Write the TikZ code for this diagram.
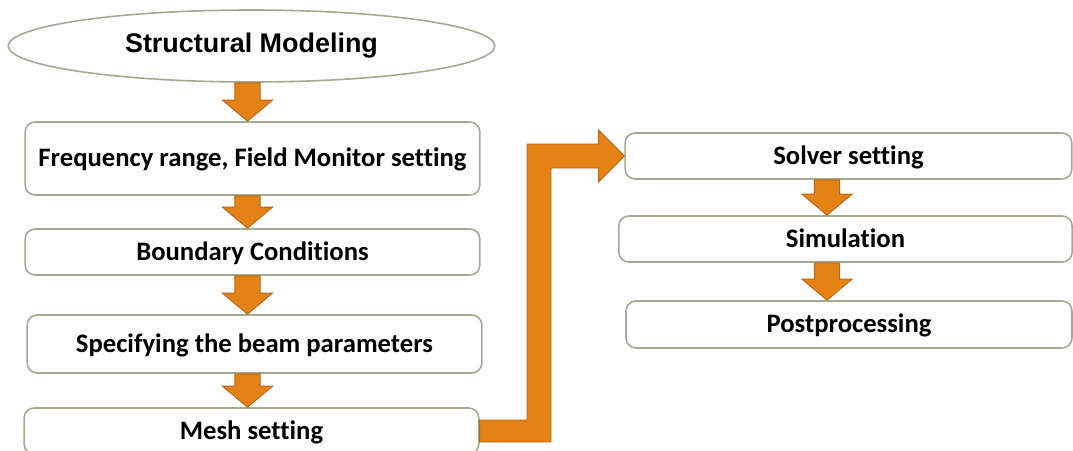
\documentclass[tikz,border=0pt]{standalone}
\usepackage{fontspec}
\setmainfont[Ligatures=NoCommon]{Carlito}
\newfontfamily\arialfont{Liberation Sans}
\usepackage{tikz}
\usetikzlibrary{shapes.geometric,calc}

\definecolor{arroworange}{RGB}{229,130,20}
\definecolor{arrowedge}{RGB}{182,104,26}
\definecolor{boxedge}{RGB}{162,172,148}

% толстая стрелка вниз: от узла #1 к узлу #2, ось на x=#3
\newcommand{\fatdown}[3]{%
  \filldraw[fatarrow] let \p1=(#1.south), \p2=(#2.north), \p3=(#3,0) in
    (\x3-9.5pt,\y1) -- (\x3-9.5pt,\y2+15.75pt) -- (\x3-18.75pt,\y2+15.75pt)
    -- (\x3,\y2) -- (\x3+18.75pt,\y2+15.75pt) -- (\x3+9.5pt,\y2+15.75pt)
    -- (\x3+9.5pt,\y1) -- cycle;}

\begin{document}
\begin{tikzpicture}[x=0.75pt, y=-0.75pt,
  box/.style={draw=boxedge, line width=1.2pt, rounded corners=7.5pt,
    fill=white, inner sep=0pt, minimum width=341pt, minimum height=34.5pt,
    text depth=1.5pt, font=\bfseries\fontsize{20}{22}\selectfont},
  oval/.style={ellipse, draw=boxedge, line width=1.2pt, fill=white,
    inner sep=0pt, minimum width=365pt, minimum height=54pt,
    font=\arialfont\bfseries\fontsize{20.2}{22}\selectfont},
  fatarrow/.style={fill=arroworange, draw=arrowedge, line width=0.7pt}]
\useasboundingbox (0,0) rectangle (1073,450);
% левая колонка
\node [oval] (model) at (251.5,46) {Structural Modeling};
\node [box, minimum height=54.75pt] (freq) at (252.5,158.5) {Frequency range, Field Monitor setting};
\node [box] (bound) at (252.5,252) {Boundary Conditions};
\node [box, minimum height=43.5pt] (beam) at (254.5,344) {Specifying the beam parameters};
\node [box] (mesh) at (251.5,431) {Mesh setting};
% правая колонка
\node [box, minimum width=335pt] (solver) at (848.5,156) {Solver setting};
\node [box, minimum width=340pt] (sim) at (845.5,239) {Simulation};
\node [box, minimum width=334.5pt, minimum height=35.25pt] (post) at (849,324.5) {Postprocessing};
% стрелки
\fatdown{model}{freq}{247.5}
\fatdown{freq}{bound}{247.5}
\fatdown{bound}{beam}{247.5}
\fatdown{beam}{mesh}{247.5}
\fatdown{solver}{sim}{827}
\fatdown{sim}{post}{827}
% переход в правую колонку
\filldraw [fatarrow] let \p1=(mesh.east), \p2=(solver.west), \p3=(539,0) in
  (\x1,\y1+8.25pt) -- (\x3-9pt,\y1+8.25pt) -- (\x3-9pt,\y2+9pt)
  -- (\x2-19.5pt,\y2+9pt) -- (\x2-19.5pt,\y2+19.5pt) -- (\x2,\y2)
  -- (\x2-19.5pt,\y2-19.5pt) -- (\x2-19.5pt,\y2-9pt) -- (\x3+9pt,\y2-9pt)
  -- (\x3+9pt,\y1-8.25pt) -- (\x1,\y1-8.25pt) -- cycle;
\end{tikzpicture}
\end{document}
